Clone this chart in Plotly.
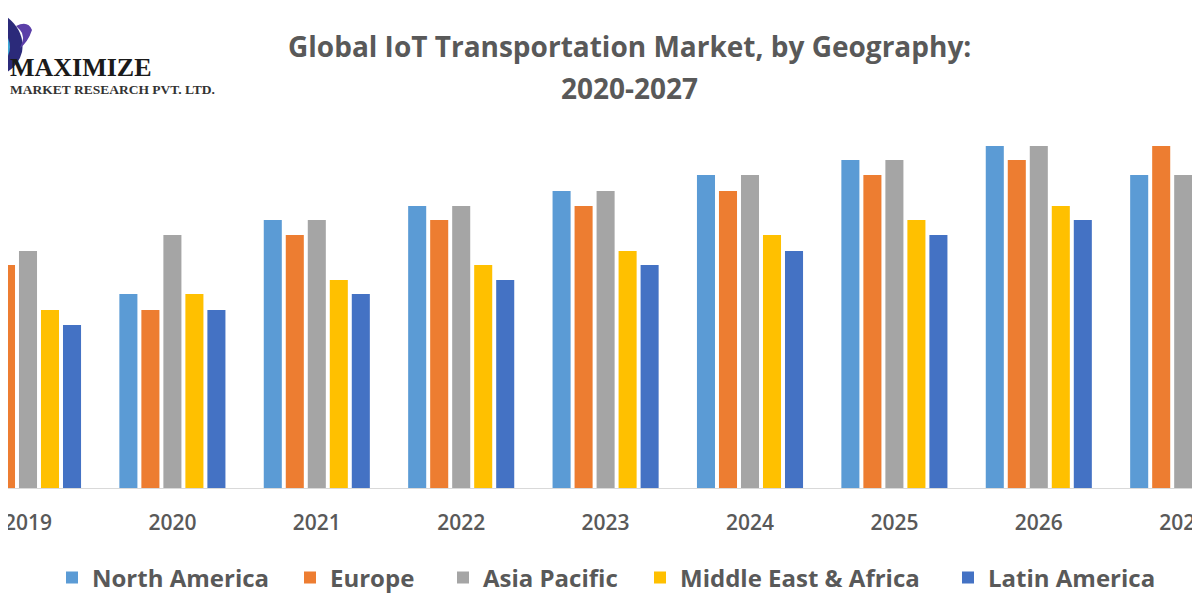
import plotly.graph_objects as go

years = ["2019", "2020", "2021", "2022", "2023", "2024", "2025", "2026", "2027"]
north_america = [20.8, 19.4, 26.8, 28.2, 29.7, 31.3, 32.8, 34.2, 31.3]
europe = [22.3, 17.8, 25.3, 26.8, 28.2, 29.7, 31.3, 32.8, 34.2]
asia_pacific = [23.7, 25.3, 26.8, 28.2, 29.7, 31.3, 32.8, 34.2, 31.3]
middle_east_africa = [17.8, 19.4, 20.8, 22.3, 23.7, 25.3, 26.8, 28.2, 29.7]
latin_america = [16.3, 17.8, 19.4, 20.8, 22.3, 23.7, 25.3, 26.8, 28.2]

series_names = ["North America", "Europe", "Asia Pacific", "Middle East & Africa", "Latin America"]
series_values = [north_america, europe, asia_pacific, middle_east_africa, latin_america]
series_colors = ["#5B9BD5", "#ED7D31", "#A5A5A5", "#FFC000", "#4472C4"]

FONT = "Open Sans"
GREY = "#595959"
OFF = 8                     # page body margin offset
W, H = 1200, 600
T, B = 130 - OFF, 600 - 488 + OFF
PH = H - T - B


def py(ref_px):
    return (488 - ref_px) / PH


def px(ref_x):
    return (ref_x - OFF) / W


legend_keys = ["legend", "legend2", "legend3", "legend4", "legend5"]
legend_text_x = [92, 330, 483, 680, 988]

fig = go.Figure()
for name, vals, col, lk in zip(series_names, series_values, series_colors, legend_keys):
    fig.add_trace(go.Bar(x=years, y=vals, name=name, legend=lk,
                         marker=dict(color=col, line=dict(width=0))))

unit = 144.4
fig.update_layout(
    width=W, height=H,
    margin=dict(l=0, r=0, t=T, b=B, autoexpand=False),
    paper_bgcolor="white", plot_bgcolor="white",
    barmode="group", bargap=0.238, bargroupgap=0.18,
    showlegend=True,
    xaxis=dict(type="category", range=[(OFF - 28) / unit, (W + OFF - 28) / unit], showgrid=False, showline=True,
               linecolor="#D9D9D9", linewidth=1, ticks="", ticklabelstandoff=16,
               tickfont=dict(family=FONT, size=21, color=GREY, weight=600)),
    yaxis=dict(range=[0, 35.8], showgrid=False, showticklabels=False, zeroline=False, showline=False),
)
for lk, tx in zip(legend_keys, legend_text_x):
    fig.update_layout({lk: dict(orientation="h", x=px(tx - 40), xanchor="left",
                                yref="container", y=1 - (578 - OFF) / H, yanchor="middle",
                                bgcolor="rgba(0,0,0,0)", borderwidth=0,
                                font=dict(family=FONT, size=24, color=GREY, weight="bold"),
                                itemwidth=30)})

fig.add_annotation(text="Global IoT Transportation Market, by Geography:", xref="paper", yref="paper",
                   x=px(629), y=py(46), xanchor="center", yanchor="middle", showarrow=False,
                   font=dict(family=FONT, size=28, color=GREY, weight="bold"))
fig.add_annotation(text="2020-2027", xref="paper", yref="paper",
                   x=px(629), y=py(88), xanchor="center", yanchor="middle", showarrow=False,
                   font=dict(family=FONT, size=28, color=GREY, weight="bold"))

# logo
fig.add_shape(type="path", xref="paper", yref="paper",
              path=f"M {px(0)} {py(12)} Q {px(26)} {py(28)} {px(22)} {py(52)} Q {px(18)} {py(68)} {px(0)} {py(76)} Z",
              fillcolor="#2b2a7a", line=dict(width=0))
fig.add_shape(type="path", xref="paper", yref="paper",
              path=f"M {px(8)} {py(38)} Q {px(14)} {py(52)} {px(2)} {py(64)} L {px(0)} {py(45)} Z",
              fillcolor="#3fa7d6", line=dict(width=0))
fig.add_shape(type="path", xref="paper", yref="paper",
              path=(f"M {px(16)} {py(26)} Q {px(28)} {py(20)} {px(32)} {py(30)} "
                    f"Q {px(28)} {py(42)} {px(20)} {py(48)} Q {px(26)} {py(36)} {px(20)} {py(30)} Z"),
              fillcolor="#5b3fa8", line=dict(width=0))
fig.add_annotation(text="MAXIMIZE", xref="paper", yref="paper", x=0.0, y=py(67),
                   xanchor="left", yanchor="middle", showarrow=False,
                   font=dict(family="Liberation Serif", size=26, color="#1a1a1a", weight="bold"))
fig.add_annotation(text="MARKET RESEARCH PVT. LTD.", xref="paper", yref="paper", x=0.0, y=py(90),
                   xanchor="left", yanchor="middle", showarrow=False,
                   font=dict(family="Liberation Serif", size=13.5, color="#333333", weight="bold"))

fig.write_html("out.html")
